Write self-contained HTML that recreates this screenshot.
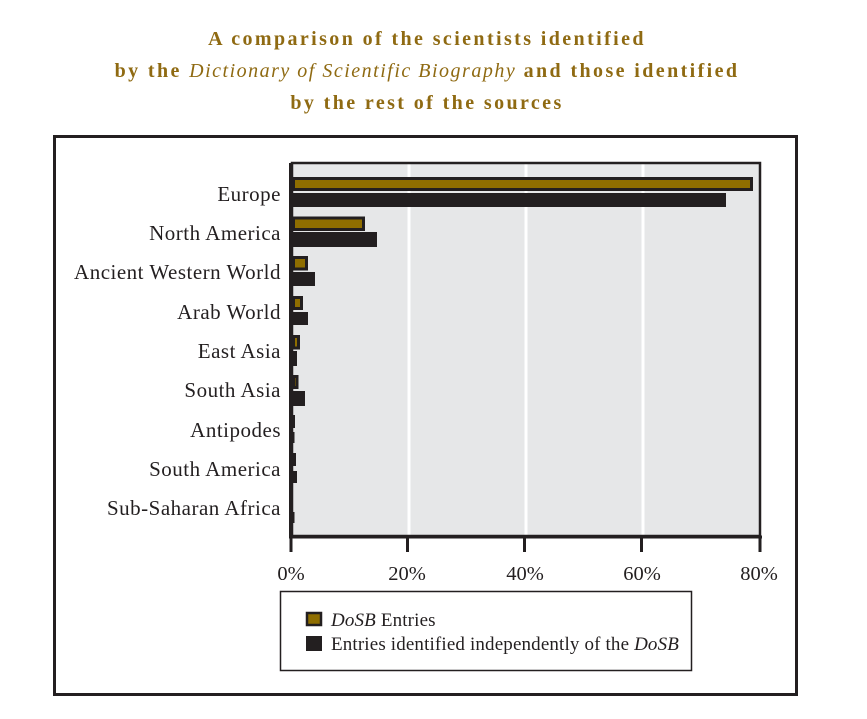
<!DOCTYPE html>
<html><head><meta charset="utf-8"><style>
html,body{margin:0;padding:0;background:#fff;}
svg{display:block;}
text{font-family:"Liberation Serif",serif;}
</style></head><body>
<svg width="867" height="719" viewBox="0 0 867 719" xmlns="http://www.w3.org/2000/svg">
<rect x="0" y="0" width="867" height="719" fill="#fff"/>
<!-- Title -->
<g fill="#8f6a12" font-weight="bold" font-size="20" text-anchor="middle" letter-spacing="2.4">
<text x="427" y="45">A comparison of the scientists identified</text>
<text x="427" y="77">by the <tspan font-style="italic" font-weight="normal" letter-spacing="1.5">Dictionary of Scientific Biography</tspan> and those identified</text>
<text x="427" y="109">by the rest of the sources</text>
</g>
<!-- Outer frame -->
<rect x="54.5" y="136.5" width="742" height="558" fill="none" stroke="#231f20" stroke-width="3"/>
<!-- Plot area -->
<rect x="292" y="163" width="469" height="373" fill="#e6e7e8"/>
<g stroke="#fff" stroke-width="3">
<line x1="409" y1="163" x2="409" y2="536"/>
<line x1="526" y1="163" x2="526" y2="536"/>
<line x1="643" y1="163" x2="643" y2="536"/>
</g>
<rect x="292" y="163" width="468" height="373" fill="none" stroke="#231f20" stroke-width="2.5"/>
<!-- Bars -->
<g fill="#8f6e00" stroke="#231f20" stroke-width="3">
<rect x="293.5" y="178.5" width="458" height="11"/>
<rect x="293.5" y="218" width="70" height="11.5"/>
<rect x="293.5" y="257.5" width="13" height="11.5"/>
<rect x="293.5" y="297.5" width="8" height="11"/>
<rect x="293.5" y="336.5" width="5" height="11.5"/>
<rect x="293.5" y="376.5" width="3.5" height="11"/>
</g>
<g fill="#231f20">
<rect x="292" y="193" width="434" height="14"/>
<rect x="292" y="232" width="85" height="15"/>
<rect x="292" y="272" width="23" height="14"/>
<rect x="292" y="312" width="16" height="13"/>
<rect x="292" y="351" width="5" height="15"/>
<rect x="292" y="391" width="13" height="15"/>
<rect x="292" y="415" width="3" height="13"/>
<rect x="292" y="432" width="2.5" height="11"/>
<rect x="292" y="453" width="4" height="13"/>
<rect x="292" y="471" width="5" height="12"/>
<rect x="292" y="512" width="2.5" height="11"/>
</g>
<!-- Axes -->
<line x1="290.5" y1="163" x2="290.5" y2="538" stroke="#231f20" stroke-width="3"/>
<line x1="289" y1="537" x2="762" y2="537" stroke="#231f20" stroke-width="3"/>
<g stroke="#231f20" stroke-width="3">
<line x1="291" y1="537" x2="291" y2="552"/>
<line x1="407.5" y1="537" x2="407.5" y2="552"/>
<line x1="524.5" y1="537" x2="524.5" y2="552"/>
<line x1="641.5" y1="537" x2="641.5" y2="552"/>
<line x1="760" y1="537" x2="760" y2="552"/>
</g>
<!-- Tick labels -->
<g fill="#231f20" font-size="20.5" text-anchor="middle">
<text x="291" y="580">0%</text>
<text x="407" y="580">20%</text>
<text x="525" y="580">40%</text>
<text x="642" y="580">60%</text>
<text x="759" y="580">80%</text>
</g>
<!-- Category labels -->
<g fill="#231f20" font-size="21" text-anchor="end" letter-spacing="0.5">
<text x="281" y="201">Europe</text>
<text x="281" y="240">North America</text>
<text x="281" y="279">Ancient Western World</text>
<text x="281" y="319">Arab World</text>
<text x="281" y="358">East Asia</text>
<text x="281" y="397">South Asia</text>
<text x="281" y="437">Antipodes</text>
<text x="281" y="476">South America</text>
<text x="281" y="515">Sub-Saharan Africa</text>
</g>
<!-- Legend -->
<rect x="280.5" y="591.5" width="411" height="79" fill="#fff" stroke="#231f20" stroke-width="1.5"/>
<rect x="307" y="613" width="14" height="12" fill="#8f6e00" stroke="#231f20" stroke-width="2.5"/>
<rect x="306" y="636" width="16" height="15" fill="#231f20"/>
<g fill="#231f20" font-size="19" letter-spacing="0.15">
<text x="331" y="626"><tspan font-style="italic">DoSB</tspan> Entries</text>
<text x="331" y="650">Entries identified independently of the <tspan font-style="italic">DoSB</tspan></text>
</g>
</svg>
</body></html>
